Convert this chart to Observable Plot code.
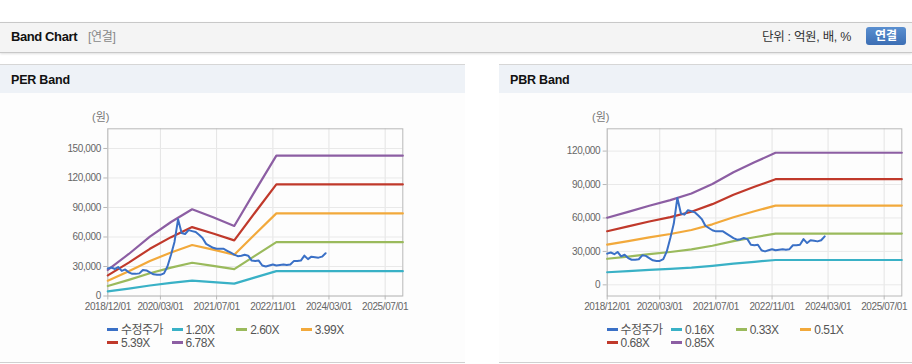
<!DOCTYPE html>
<html>
<head>
<meta charset="utf-8">
<script src="https://cdn.jsdelivr.net/npm/d3@7"></script>
<script src="https://cdn.jsdelivr.net/npm/@observablehq/plot@0.6"></script>
<style>
  html, body { margin:0; padding:0; background:#fff; }
  body { width:912px; height:364px; position:relative; overflow:hidden;
         font-family:"Liberation Sans", Arial, "Noto Sans CJK KR", sans-serif; }
  .abs { position:absolute; }
  #hdr { left:0; top:22px; width:912px; height:29px; background:#f4f4f4;
         border-top:1px solid #c8c8c8; border-bottom:1px solid #c8c8c8;
         box-shadow:0 1px 2px rgba(0,0,0,0.12); }
  #hdrTitle { left:11px; top:29px; font-size:13px; font-weight:bold; color:#111; letter-spacing:-0.4px; line-height:15px; }
  #hdrSub { left:88px; top:30px; font-size:12px; color:#888; letter-spacing:-0.3px; line-height:14px; }
  #hdrUnit { left:762px; top:30px; font-size:12.5px; color:#333; letter-spacing:-0.3px; line-height:14px; }
  #btn { left:866px; top:27px; width:40px; height:18px; border-radius:3px;
         background:linear-gradient(#5a8fd0,#3c6eb4); color:#fff; font-size:12px; font-weight:bold;
         text-align:center; line-height:18px; }
  .panel { top:64px; height:297px; background:#fdfdfd; border-top:1px solid #d6d6d6; border-bottom:1px solid #d0d0d0; }
  .ptitle { height:28px; background:#eef2f7; }
  .ptext { font-size:12.5px; font-weight:bold; color:#111; letter-spacing:-0.2px; line-height:15px; }
  .yunit { font-size:11px; color:#777; line-height:13px; }
  .leg { font-size:12px; color:#555; letter-spacing:-0.5px; white-space:nowrap; line-height:13px; }
  .sw { display:inline-block; width:11px; height:3px; vertical-align:middle; margin-right:3px; position:relative; top:-1px; }
  svg text { letter-spacing:-0.4px; }
</style>
</head>
<body>
<div id="hdr" class="abs"></div>
<div id="hdrTitle" class="abs">Band Chart</div>
<div id="hdrSub" class="abs">[연결]</div>
<div id="hdrUnit" class="abs">단위 : 억원, 배, %</div>
<div id="btn" class="abs">연결</div>

<div class="abs panel" style="left:0;width:465px;"><div class="ptitle"></div></div>
<div class="abs panel" style="left:499px;width:413px;"><div class="ptitle"></div></div>
<div class="abs ptext" style="left:11px;top:73px;">PER Band</div>
<div class="abs ptext" style="left:510px;top:73px;">PBR Band</div>
<div class="abs yunit" style="left:92px;top:111px;">(원)</div>
<div class="abs yunit" style="left:592px;top:111px;">(원)</div>

<div id="per" class="abs" style="left:0;top:100px;"></div>
<div id="pbr" class="abs" style="left:500px;top:100px;"></div>
<div id="perLeg"></div>
<div id="pbrLeg"></div>

<script>
// ---------- data ----------
const xTickLabels = ["2018-12-01","2020-03-01","2021-07-01","2022-11-01","2024-03-01","2025-07-01"];
const xDomain = ["2018-12-01","2025-12-01"];

const priceDates = ["2018-12-01","2019-01-01","2019-02-01","2019-03-01","2019-04-01","2019-05-01","2019-06-01","2019-07-01","2019-08-01","2019-09-01","2019-10-01","2019-11-01",
 "2019-12-01","2020-01-01","2020-02-01","2020-03-01","2020-04-01","2020-05-01","2020-06-01","2020-07-01","2020-08-01","2020-09-01","2020-10-01","2020-11-01",
 "2020-12-01","2021-01-01","2021-02-01","2021-03-01","2021-04-01","2021-05-01","2021-06-01","2021-07-01","2021-08-01","2021-09-01","2021-10-01","2021-11-01",
 "2021-12-01","2022-01-01","2022-02-01","2022-03-01","2022-04-01","2022-05-01","2022-06-01","2022-07-01","2022-08-01","2022-09-01","2022-10-01","2022-11-01",
 "2022-12-01","2023-01-01","2023-02-01","2023-03-01","2023-04-01","2023-05-01","2023-06-01","2023-07-01","2023-08-01","2023-09-01","2023-10-01","2023-11-01",
 "2023-12-01","2024-01-01","2024-02-01"];
const price = [28000,29000,27500,29500,25500,27000,24000,22500,22500,23000,26500,26000,
 24000,22000,21500,21500,23000,30000,42000,55000,78000,64000,63000,67000,
 66000,65000,62000,59000,53000,51000,49000,48000,48000,48000,46000,44000,
 42000,40500,41000,42000,41000,36000,35500,36000,31000,30000,31000,32000,
 31000,31500,32000,31500,32000,35500,35500,36000,41000,37500,40000,39500,
 39000,40000,43500];

const bandDates = ["2018-12-01","2019-06-01","2019-12-01","2020-06-01","2020-12-01","2021-06-01","2021-12-01","2022-06-01","2022-12-01","2025-12-01"];

const perLabels = ["1.20X","2.60X","3.99X","5.39X","6.78X"];
const per120 = [4680,7560,10680,13320,15600,14160,12600,18960,25260,25260];
const per260 = [10140,16380,23140,28860,33800,30680,27300,41080,54730,54730];
const per399 = [15560,25140,35510,44290,51870,47080,41900,63040,83990,83990];
const per539 = [21020,33960,47970,59830,70070,63600,56600,85160,113460,113460];
const per678 = [26440,42710,60340,75260,88140,80000,71190,107120,142720,142720];

const pbrLabels = ["0.16X","0.33X","0.51X","0.68X","0.85X"];
const pbr016 = [11300,12300,13400,14300,15400,17000,19000,20700,22300,22300];
const pbr033 = [23400,25400,27600,29500,31800,35100,39200,42700,46000,46000];
const pbr051 = [36100,39300,42600,45600,49200,54300,60600,66000,71100,71100];
const pbr068 = [48100,52400,56800,60800,65600,72400,80800,88000,94800,94800];
const pbr085 = [60200,65500,71000,76000,82000,90500,101000,110000,118500,118500];

const perYTicks = [0,30000,60000,90000,120000,150000];
const pbrYTicks = [0,30000,60000,90000,120000];
const priceLabel = "수정주가";
const colors = ["#3a70c6","#39b1c6","#9aba5c","#f2a93b","#c0392b","#8c5ea3"];

// ---------- build ----------
const toD = s => new Date(s + "T00:00:00Z");
const xTicks = xTickLabels.map(toD);
const priceRows = priceDates.map((d,i)=>({date:toD(d), v:price[i]}));
function bandRows(arr){ return bandDates.map((d,i)=>({date:toD(d), v:arr[i]})); }

function chart(bands, yDomain, yTicks, opts){
  const marks = [
    Plot.gridX(xTicks, {stroke:"#e4e4e4", strokeOpacity:1}),
    Plot.gridY(yTicks, {stroke:"#e9e9e9", strokeOpacity:1}),
    Plot.frame({stroke:"#b8b8b8"}),
    Plot.axisX(xTicks, {tickFormat:d3.utcFormat("%Y/%m/%d"), tickSize:4, tickPadding:3, stroke:"#b8b8b8", fill:"#666", label:null}),
    Plot.axisY(yTicks, {tickFormat:d3.format(","), tickSize:4, tickPadding:3, stroke:"#b8b8b8", fill:"#666", label:null})
  ];
  bands.forEach((b,i)=>{
    marks.push(Plot.line(bandRows(b), {x:"date", y:"v", stroke:colors[i+1], strokeWidth:2.2, curve:"linear"}));
  });
  marks.push(Plot.line(priceRows, {x:"date", y:"v", stroke:colors[0], strokeWidth:2, curve:"linear"}));
  return Plot.plot({
    width:opts.width, height:220,
    marginTop:28.3, marginBottom:24.5, marginLeft:opts.ml, marginRight:opts.mr,
    style:{fontFamily:'"Liberation Sans", Arial, sans-serif', fontSize:"10px", color:"#666", background:"transparent", overflow:"visible"},
    x:{type:"utc", domain:xDomain.map(toD)},
    y:{domain:yDomain},
    marks
  });
}

document.getElementById("per").appendChild(
  chart([per120,per260,per399,per539,per678],[0,170000],perYTicks,{width:465, ml:107.3, mr:62.7}));
document.getElementById("pbr").appendChild(
  chart([pbr016,pbr033,pbr051,pbr068,pbr085],[-10000,140000],pbrYTicks,{width:412, ml:106.7, mr:10.7}));

function legend(id, x0, labels){
  const el = document.getElementById(id);
  const all = [priceLabel].concat(labels);
  all.forEach((lab,i)=>{
    const row = i < 4 ? 0 : 1;
    const col = i < 4 ? i : i-4;
    const d = document.createElement("div");
    d.className = "abs leg";
    d.style.left = (x0 + col*64.6) + "px";
    d.style.top = (row === 0 ? 324 : 337) + "px";
    d.innerHTML = `<span class="sw" style="background:${colors[i]}"></span>${lab}`;
    el.appendChild(d);
  });
}
legend("perLeg", 107, perLabels);
legend("pbrLeg", 606.5, pbrLabels);
</script>
</body>
</html>
